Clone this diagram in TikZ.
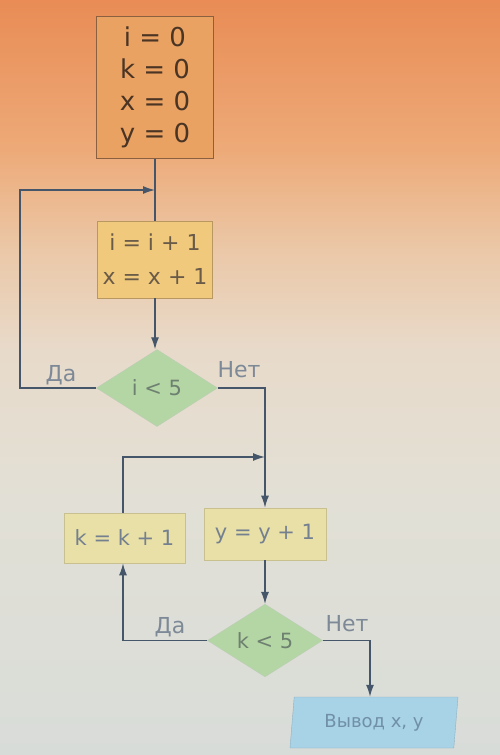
\documentclass[tikz,border=0pt]{standalone}
\usepackage{fontspec}
\setmainfont{DejaVu Sans}
\usetikzlibrary{shapes.geometric,arrows.meta}
\definecolor{bgA}{HTML}{E98C55}
\definecolor{bgB}{HTML}{EDAA78}
\definecolor{bgC}{HTML}{EBC8A8}
\definecolor{bgD}{HTML}{E8DACA}
\definecolor{bgE}{HTML}{E2E0D6}
\definecolor{bgF}{HTML}{D8DCD8}
\definecolor{initfill}{HTML}{E9A262}
\definecolor{initdraw}{HTML}{8A6040}
\definecolor{inittext}{HTML}{4A3424}
\definecolor{incfill}{HTML}{F0C97C}
\definecolor{incdraw}{HTML}{B89860}
\definecolor{inctext}{HTML}{6A5A48}
\definecolor{decfill}{HTML}{B4D6A4}
\definecolor{dectext}{HTML}{6E8070}
\definecolor{boxfill}{HTML}{E8E0A6}
\definecolor{boxdraw}{HTML}{C8C08E}
\definecolor{boxtext}{HTML}{748090}
\definecolor{outfill}{HTML}{A8D2E6}
\definecolor{outtext}{HTML}{7090A8}
\definecolor{linecol}{HTML}{46566A}
\pgfdeclareverticalshading{bgshade}{100bp}{color(0bp)=(bgF); color(25bp)=(bgF); color(41.9bp)=(bgE); color(51.8bp)=(bgD); color(58.4bp)=(bgC); color(65.1bp)=(bgB); color(75bp)=(bgA); color(100bp)=(bgA)}
\begin{document}
\begin{tikzpicture}[x=1pt,y=-1pt,
  procbox/.style={rectangle, inner sep=0pt, align=center},
  decbox/.style={diamond, inner sep=0pt, fill=decfill, draw=decfill!80!black!60, line width=0.4pt, text=dectext, font=\fontsize{21}{25}\selectfont},
  conn/.style={draw=linecol, line width=1.3pt},
  arr/.style={conn, -{Latex[length=12pt,width=8pt]}},
  lbl/.style={inner sep=0pt, text=linecol!70, font=\fontsize{22}{26}\selectfont}]
\useasboundingbox (0,0) rectangle (500,755);
\shade[shading=bgshade] (0,0) rectangle (500,755);

\node[procbox, fill=initfill, draw=initdraw, line width=1pt, text=inittext,
  minimum width=117pt, minimum height=142pt,
  font=\fontsize{26}{32}\selectfont] (init) at (155,87) {i = 0\\k = 0\\x = 0\\y = 0};
\node[procbox, fill=incfill, draw=incdraw, line width=0.8pt, text=inctext,
  minimum width=115pt, minimum height=77pt,
  font=\fontsize{22}{34}\selectfont] (inc) at (155,259.5) {i = i + 1\\x = x + 1};
\node[decbox, minimum width=121pt, minimum height=77pt] (d1) at (157,388) {i < 5};
\node[procbox, fill=boxfill, draw=boxdraw, line width=0.6pt, text=boxtext,
  minimum width=121pt, minimum height=50pt,
  font=\fontsize{21}{25}\selectfont] (kinc) at (124.5,538) {k = k + 1};
\node[procbox, fill=boxfill, draw=boxdraw, line width=0.6pt, text=boxtext,
  minimum width=122pt, minimum height=52pt,
  font=\fontsize{21}{25}\selectfont] (yinc) at (265,534) {y = y + 1};
\node[decbox, minimum width=115pt, minimum height=65pt] (d2) at (265,640.5) {k < 5};
\node[trapezium, trapezium left angle=76, trapezium right angle=104,
  trapezium stretches body, inner sep=0pt, minimum width=168pt, minimum height=51pt,
  fill=outfill, draw=outfill!85!black, line width=0.4pt, text=outtext,
  font=\fontsize{18}{22}\selectfont] (out) at (374,722.5) {Вывод x, y};

\coordinate (j1) at (155,190);
\coordinate (j2) at (265,457);
\coordinate (c1) at (20,388);
\coordinate (c2) at (20,190);
\coordinate (c3) at (265,388);
\coordinate (c4) at (123,457);
\coordinate (c5) at (123,640.5);
\coordinate (c6) at (370,640.5);

\draw[conn] (init.south) -- (inc.north);
\draw[arr] (d1.west) -- (c1) -- (c2) -- (j1);
\draw[arr] (inc.south) -- (inc.south |- d1.north);
\draw[arr] (d1.east) -- (c3) -- (yinc.north);
\draw[arr] (kinc.north -| c4) -- (c4) -- (j2);
\draw[arr] (d2.west) -- (c5) -- (c5 |- kinc.south);
\draw[arr] (yinc.south) -- (d2.north);
\draw[arr] (d2.east) -- (c6) -- (c6 |- out.north);

\node[lbl] (da1) at (61,375) {Да};
\node[lbl] (net1) at (239,370) {Нет};
\node[lbl] (da2) at (170,627) {Да};
\node[lbl] (net2) at (347,624) {Нет};
\end{tikzpicture}
\end{document}
